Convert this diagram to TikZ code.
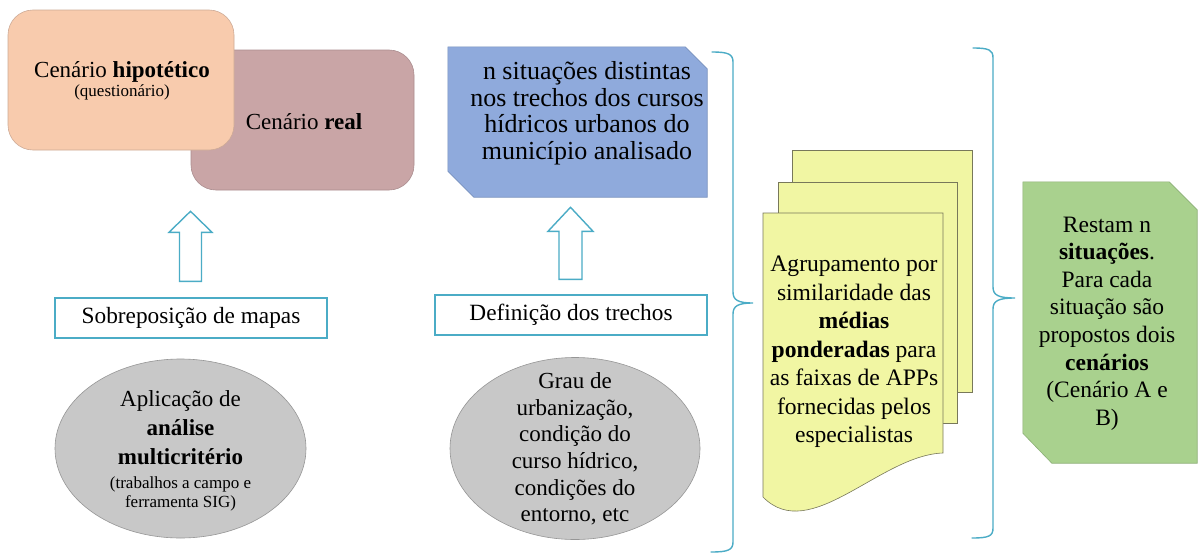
\documentclass[tikz,border=0pt]{standalone}
\usepackage{fontspec}
\setmainfont{Liberation Serif}
\usetikzlibrary{shapes.geometric,backgrounds,calc}
\definecolor{tealc}{RGB}{75,172,198}
\definecolor{peach}{RGB}{248,203,173}
\definecolor{peachb}{RGB}{205,170,150}
\definecolor{mauve}{RGB}{201,165,166}
\definecolor{mauveb}{RGB}{170,140,142}
\definecolor{bluef}{RGB}{143,170,220}
\definecolor{blueb}{RGB}{120,145,190}
\definecolor{grayf}{RGB}{200,200,200}
\definecolor{grayb}{RGB}{150,150,150}
\definecolor{yelf}{RGB}{241,246,163}
\definecolor{yelb}{RGB}{120,120,90}
\definecolor{greenf}{RGB}{169,209,142}
\definecolor{greenb}{RGB}{140,175,118}
\newcommand{\smf}{\fontsize{17}{19}\selectfont}
\tikzset{
  txt/.style={align=center, text=black, inner sep=0pt},
  rbox/.style={rectangle, rounded corners=25pt, line width=0.6pt, inner sep=0pt},
  stepbox/.style={rectangle, draw=tealc, line width=1.4pt, fill=white, minimum width=272pt, minimum height=40pt, font=\fontsize{23.3}{27}\selectfont},
  oval/.style={ellipse, fill=grayf, draw=grayb, line width=0.6pt, inner sep=0pt, align=center},
  hollow/.style={draw=tealc, line width=1.4pt, fill=white, line join=miter},
  brace/.style={draw=tealc, line width=1.4pt, line cap=round}
}
\begin{document}
\begin{tikzpicture}[x=1pt, y=-1pt]
\useasboundingbox (0,0) rectangle (1198,554);
\begin{scope}[on background layer]
\fill[white] (0,0) rectangle (1198,554);
\end{scope}

% top-left boxes
\node[rbox, fill=mauve, draw=mauveb, minimum width=223pt, minimum height=140pt] (real) at (302.5,120) {};
\node[txt, font=\fontsize{23}{27}\selectfont] (realt) at (304,122) {Cenário \textbf{real}};
\node[rbox, fill=peach, draw=peachb, minimum width=226pt, minimum height=140pt] (hipo) at (121,80) {};
\node[txt, font=\fontsize{23}{27}\selectfont] (hipot) at (122,81) {Cenário \textbf{hipotético}\\[-8pt]{\smf (questionário)}};

% blue snipped box
\node[txt, minimum width=259pt, minimum height=150pt] (blue) at (577.5,122) {};
\begin{scope}[on background layer]
\filldraw[fill=bluef, draw=blueb, line width=0.6pt]
  (blue.north west) -- ($(blue.north east)+(-22,0)$) -- ($(blue.north east)+(0,22)$)
  -- (blue.south east) -- ($(blue.south west)+(26,0)$) -- ($(blue.south west)+(0,-26)$) -- cycle;
\end{scope}
\node[txt, font=\fontsize{26}{26.5}\selectfont] (bluet) at (587,113) {n situações distintas\\nos trechos dos cursos\\hídricos urbanos do\\município analisado};

% step boxes
\node[stepbox] (sob) at (191,318) {Sobreposição de mapas};
\node[stepbox] (def) at (571,315) {Definição dos trechos};

% hollow arrows
\coordinate (a1) at ($(sob.north)+(-0.5,-16)$);
\filldraw[hollow] (a1) ++(-11,0) -- ++(0,-49) -- ++(-10.5,0) -- ($(a1)+(0,-70)$) -- ++(21.5,21) -- ++(-10.5,0) -- ++(0,49) -- cycle;
\coordinate (a2) at ($(def.north)+(-0.5,-15)$);
\filldraw[hollow] (a2) ++(-11.5,0) -- ++(0,-48) -- ++(-11,0) -- ($(a2)+(0,-72)$) -- ++(22.5,24) -- ++(-11,0) -- ++(0,48) -- cycle;

% ellipses
\node[oval, minimum width=251pt, minimum height=179pt] (ell1) at (180.5,448.5) {};
\node[txt, font=\fontsize{23}{29}\selectfont] (ell1t) at (180.5,451) {Aplicação de\\\textbf{análise}\\\textbf{multicritério}\\[-5pt]{\smf (trabalhos a campo e}\\[-10pt]{\smf ferramenta SIG)}};
\node[oval, minimum width=250pt, minimum height=182pt] (ell2) at (575,448.5) {};
\node[txt, font=\fontsize{23}{26.6}\selectfont] (ell2t) at (575,449) {Grau de\\urbanização,\\condição do\\curso hídrico,\\condições do\\entorno, etc};

% yellow stacked documents
\filldraw[fill=yelf, draw=yelb, line width=0.6pt] (792,150) rectangle (972,392);
\filldraw[fill=yelf, draw=yelb, line width=0.6pt] (778,182) rectangle (957,423);
\filldraw[fill=yelf, draw=yelb, line width=0.6pt] (763,213) -- (943,213) -- (943,453) .. controls (880,455) and (810,545) .. (763,497) -- cycle;
\node[txt, font=\fontsize{23.6}{28.5}\selectfont] (yel) at (854,352) {Agrupamento por\\similaridade das\\\textbf{médias}\\\textbf{ponderadas} para\\as faixas de APPs\\fornecidas pelos\\especialistas};

% green snipped box
\node[txt, minimum width=174pt, minimum height=281pt] (green) at (1110,322.5) {};
\begin{scope}[on background layer]
\filldraw[fill=greenf, draw=greenb, line width=0.6pt]
  (green.north west) -- ($(green.north east)+(-28,0)$) -- ($(green.north east)+(0,28)$)
  -- (green.south east) -- ($(green.south west)+(29,0)$) -- ($(green.south west)+(0,-30)$) -- cycle;
\end{scope}
\node[txt, font=\fontsize{23.5}{27.6}\selectfont] (greent) at (1107,323.5) {Restam n\\\textbf{situações}.\\Para cada\\situação são\\propostos dois\\\textbf{cenários}\\(Cenário A e\\B)};

% braces
\coordinate (b1top) at (712,52);
\coordinate (b1tip) at (753,303);
\coordinate (b1bot) at (711,552);
\draw[brace] (b1top) .. controls (728,52) and (733,54) .. (733,62) -- (733,292)
  .. controls (733,300) and (738,303) .. (b1tip)
  .. controls (738,303) and (733,306) .. (733,314) -- (733,542)
  .. controls (733,550) and (728,552) .. (b1bot);
\coordinate (b2top) at (973,48);
\coordinate (b2tip) at (1015,298);
\coordinate (b2bot) at (972,538);
\draw[brace] (b2top) .. controls (989,48) and (993,50) .. (993,58) -- (993,287)
  .. controls (993,295) and (998,298) .. (b2tip)
  .. controls (998,298) and (993,301) .. (993,309) -- (993,528)
  .. controls (993,536) and (989,538) .. (b2bot);
\end{tikzpicture}
\end{document}
